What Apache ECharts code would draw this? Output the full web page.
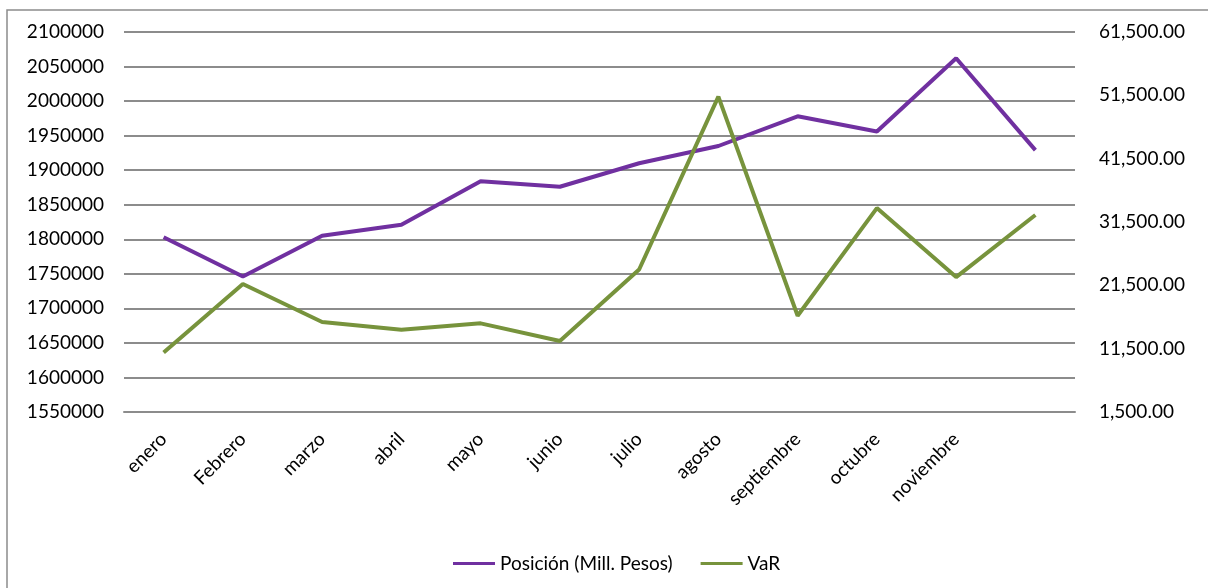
<!DOCTYPE html>
<html>
<head>
<meta charset="utf-8">
<script src="https://cdn.jsdelivr.net/npm/echarts@6/dist/echarts.min.js"></script>
<style>
html,body{margin:0;padding:0;background:#fff;}
#chart{width:1208px;height:588px;}
</style>
</head>
<body>
<div id="chart"></div>
<script>
const categories = ['enero','Febrero','marzo','abril','mayo','junio','julio','agosto','septiembre','octubre','noviembre',''];
const posicion = [1803000, 1746000, 1805000, 1821000, 1884000, 1876000, 1910000, 1935000, 1978000, 1956000, 2062000, 1929000];
const varValues = [10900, 21700, 15700, 14500, 15500, 12700, 24000, 51300, 16700, 33700, 22800, 32600];
const leftTicks = {min: 1550000, max: 2100000, interval: 50000};
const rightTicks = {min: 1500, max: 61500, interval: 10000};

const FONT = 'Lato';
const FS = 19;
const chart = echarts.init(document.getElementById('chart'));
chart.setOption({
  animation: false,
  backgroundColor: '#ffffff',
  textStyle: {fontFamily: FONT},
  graphic: [{
    type: 'rect',
    shape: {x: 7, y: 10, width: 1400, height: 800},
    style: {fill: 'none', stroke: '#8c8c8c', lineWidth: 1.5},
    silent: true
  }],
  grid: {left: 124, right: 133, top: 32, bottom: 176, containLabel: false},
  legend: {
    left: 448, top: 549,
    icon: 'rect', itemWidth: 42, itemHeight: 3, itemGap: 28,
    textStyle: {fontFamily: FONT, fontSize: FS, color: '#000'},
    data: ['Posición (Mill. Pesos)', 'VaR']
  },
  xAxis: {
    type: 'category',
    data: categories,
    boundaryGap: true,
    axisLine: {show: true, lineStyle: {color: '#8c8c8c', width: 2}},
    axisTick: {show: false},
    axisLabel: {rotate: 45, margin: 24, fontFamily: FONT, fontSize: FS, color: '#000', interval: 0}
  },
  yAxis: [{
    type: 'value',
    min: leftTicks.min, max: leftTicks.max, interval: leftTicks.interval,
    axisLine: {show: false}, axisTick: {show: false},
    splitLine: {lineStyle: {color: '#8c8c8c', width: 2}},
    axisLabel: {margin: 20, fontFamily: FONT, fontSize: FS, color: '#000', formatter: v => String(v)}
  }, {
    type: 'value',
    min: rightTicks.min, max: rightTicks.max, interval: rightTicks.interval,
    axisLine: {show: false}, axisTick: {show: false},
    splitLine: {show: false},
    axisLabel: {margin: 24, fontFamily: FONT, fontSize: FS, color: '#000',
      formatter: v => v.toLocaleString('en-US', {minimumFractionDigits: 2, maximumFractionDigits: 2})}
  }],
  series: [{
    name: 'Posición (Mill. Pesos)', type: 'line', yAxisIndex: 0,
    data: posicion, showSymbol: false, symbol: 'none',
    lineStyle: {color: '#7030A0', width: 4}, itemStyle: {color: '#7030A0'}
  }, {
    name: 'VaR', type: 'line', yAxisIndex: 1,
    data: varValues, showSymbol: false, symbol: 'none',
    lineStyle: {color: '#77933C', width: 4}, itemStyle: {color: '#77933C'}
  }]
});
</script>
</body>
</html>
